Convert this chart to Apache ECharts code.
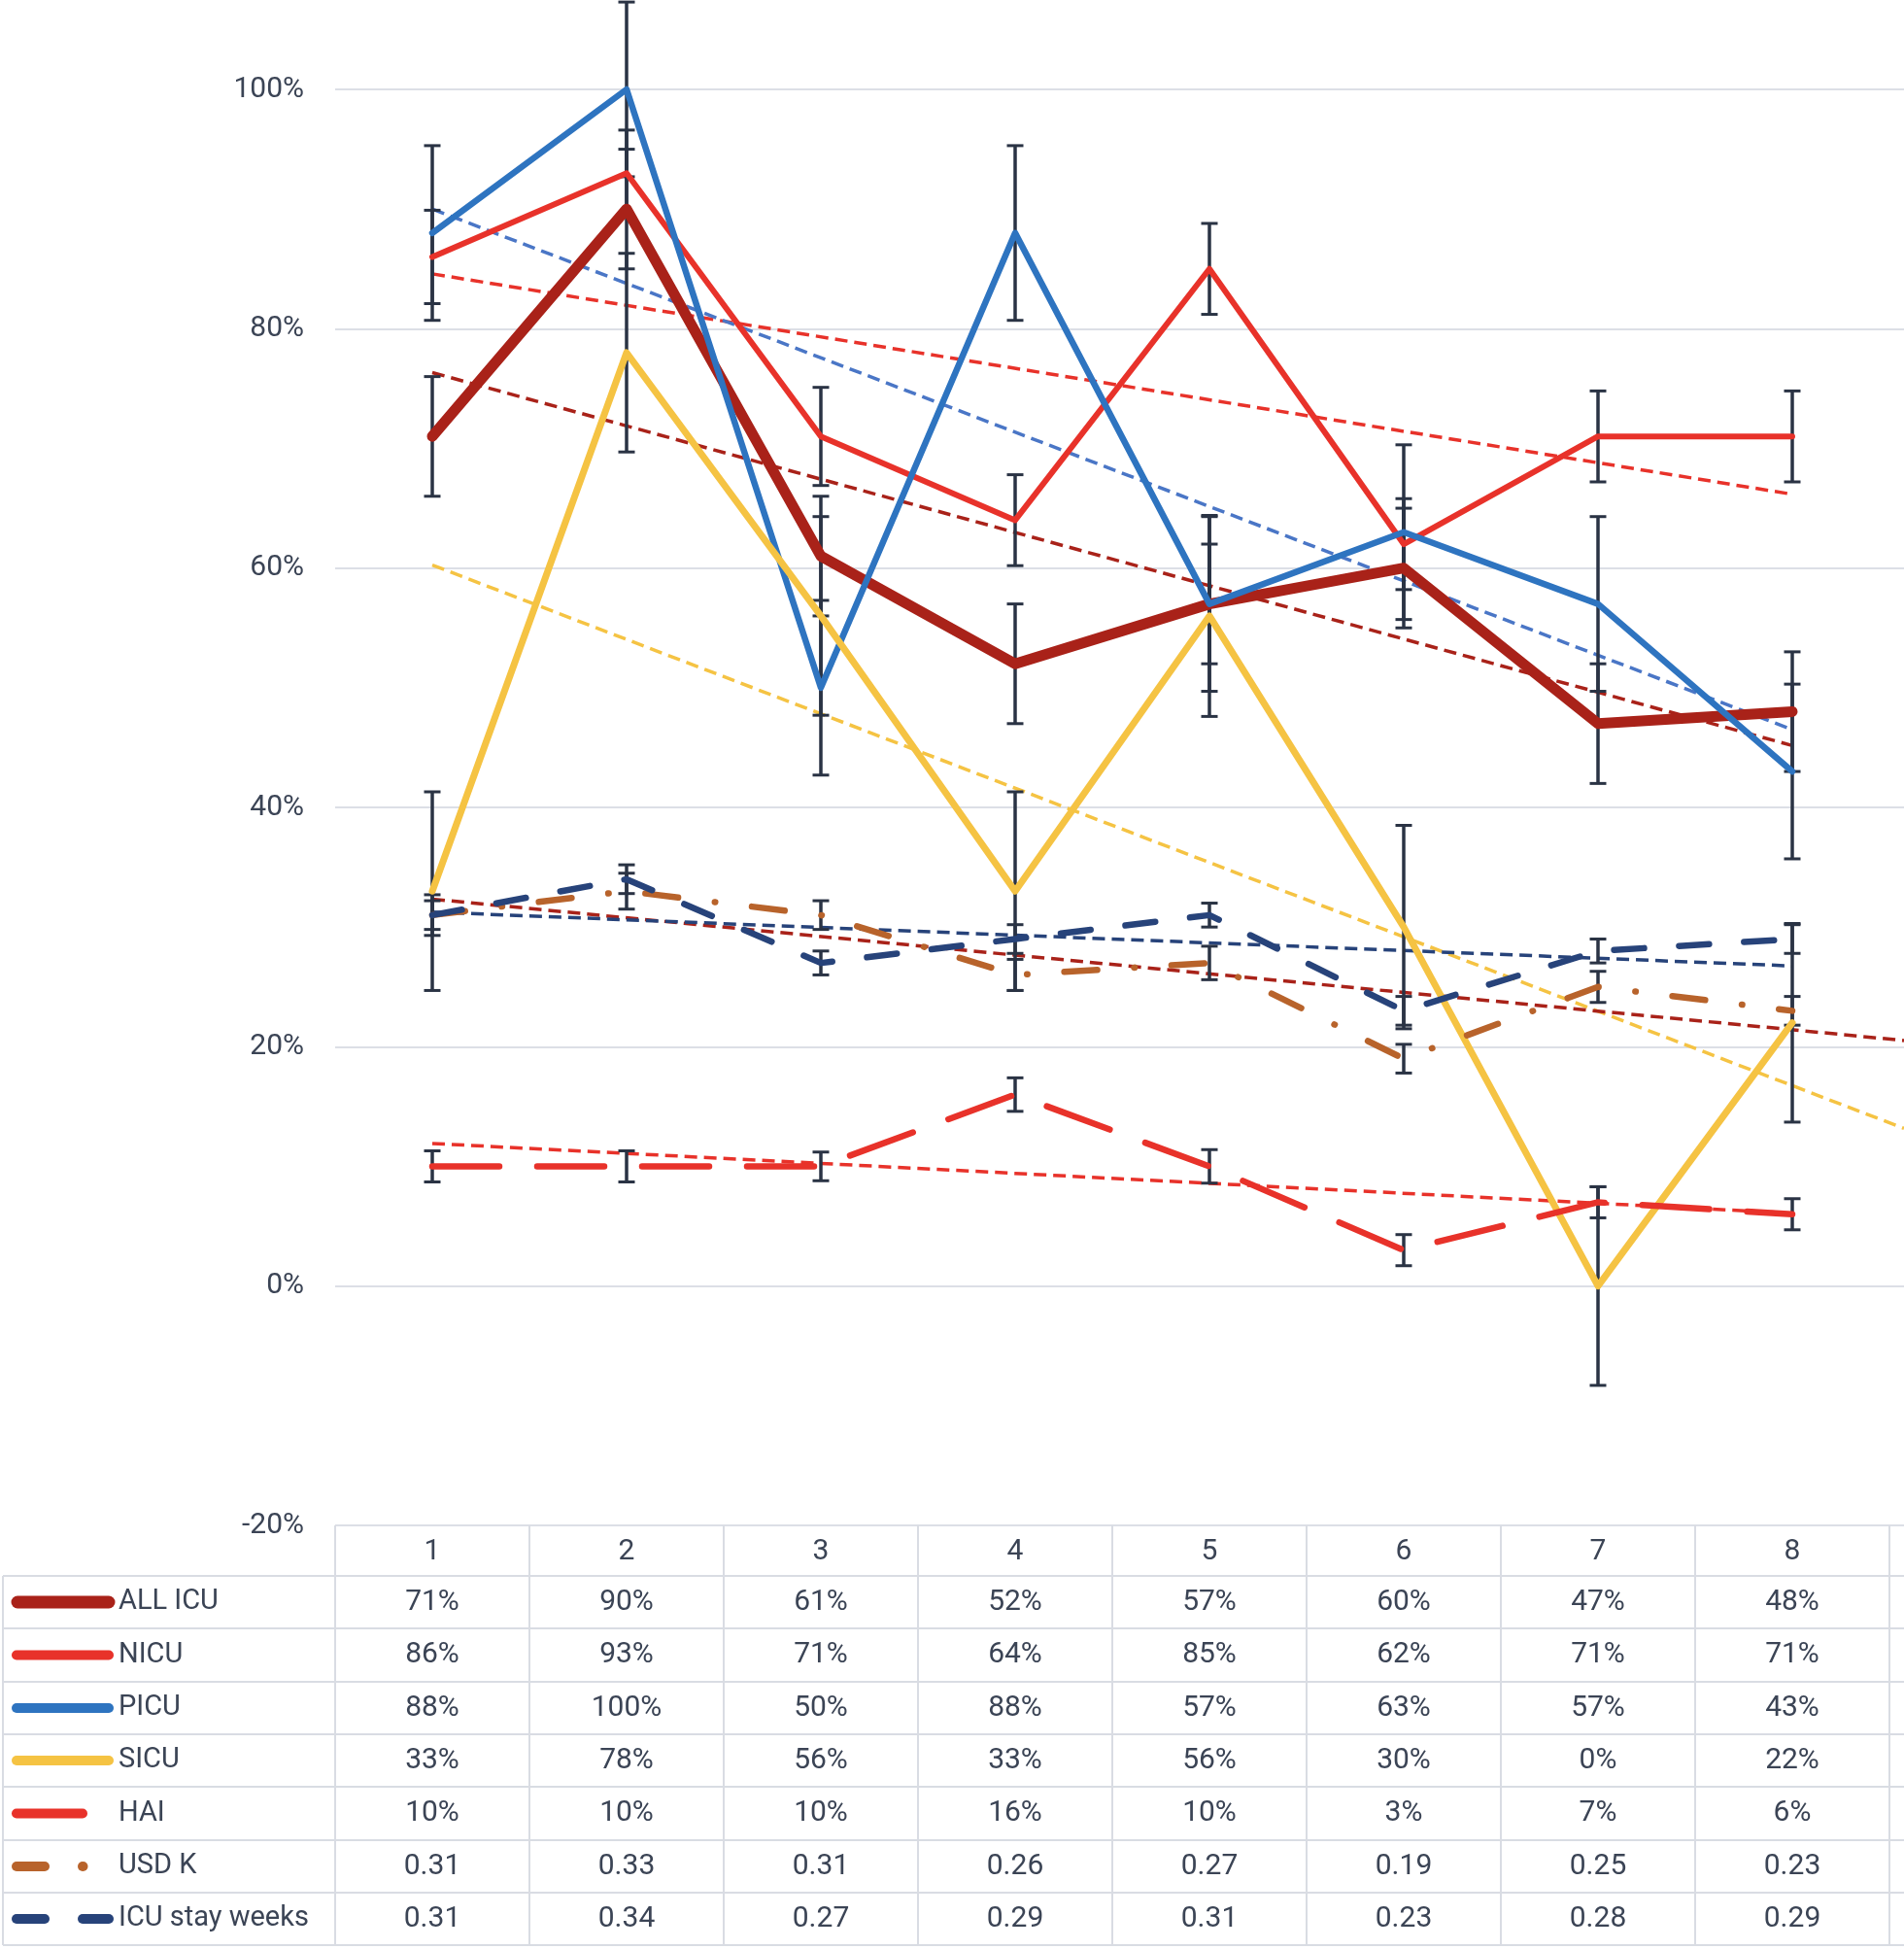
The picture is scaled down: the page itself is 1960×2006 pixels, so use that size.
<!DOCTYPE html>
<html>
<head>
<meta charset="utf-8">
<script src="https://cdn.jsdelivr.net/npm/echarts@6/dist/echarts.min.js"></script>
<style>
  html, body { margin: 0; padding: 0; background: #ffffff; }
  #chart { width: 1960px; height: 2006px; }
</style>
</head>
<body>
<div id="chart"></div>
<script>
// ---------- data ----------
const categories = [1, 2, 3, 4, 5, 6, 7, 8];
const seriesNames = ['ALL ICU', 'NICU', 'PICU', 'SICU', 'HAI', 'USD K', 'ICU stay weeks'];
const allIcu  = [0.71, 0.90, 0.61, 0.52, 0.57, 0.60, 0.47, 0.48];
const nicu    = [0.86, 0.93, 0.71, 0.64, 0.85, 0.62, 0.71, 0.71];
const picu    = [0.88, 1.00, 0.50, 0.88, 0.57, 0.63, 0.57, 0.43];
const sicu    = [0.33, 0.78, 0.56, 0.33, 0.56, 0.30, 0.00, 0.22];
const hai     = [0.10, 0.10, 0.10, 0.16, 0.10, 0.03, 0.07, 0.06];
const usdK    = [0.31, 0.33, 0.31, 0.26, 0.27, 0.19, 0.25, 0.23];
const icuStay = [0.31, 0.34, 0.27, 0.29, 0.31, 0.23, 0.28, 0.29];

// error bar half-lengths
const errAll  = [0.050, 0.050, 0.050, 0.050, 0.050, 0.050, 0.050, 0.050];
const errNicu = [0.039, 0.036, 0.041, 0.038, 0.038, 0.038, 0.038, 0.038];
const errPicu = [0.073, 0.073, 0.073, 0.073, 0.073, 0.073, 0.073, 0.073];
const errSicu = [0.083, 0.083, 0.083, 0.083, 0.084, 0.085, 0.083, 0.083];
const errHai  = [0.013, 0.013, 0.012, 0.014, 0.014, 0.013, 0.013, 0.013];
const errUsd  = [0.012, 0.015, 0.012, 0.013, 0.014, 0.012, 0.013, 0.012];
const errStay = [0.017, 0.012, 0.010, 0.012, 0.010, 0.012, 0.010, 0.012];

// ---------- styles ----------
const TEXT = '#3B4455';
const GRIDC = '#DCDFE6';
const ERRC = '#2A3344';
const FONT = 'Roboto, "Liberation Sans", sans-serif';

const styles = [
  { color: '#A92219', width: 11, dash: 'solid', trend: '#A92219', trendEnd: 8 },
  { color: '#E8322A', width: 6, dash: 'solid', trend: '#E8322A', trendEnd: 8 },
  { color: '#2E74C0', width: 6.5, dash: 'solid', trend: '#4A76C6', trendEnd: 8 },
  { color: '#F5C343', width: 7, dash: 'solid', trend: '#F5C343', trendEnd: 8.575 },
  { color: '#E8322A', width: 6.5, dash: [69, 39], trend: '#E8322A', trendEnd: 8 },
  { color: '#B8632B', width: 6.5, dash: [34, 38, 0.5, 38], trend: '#A92219', trendEnd: 8.575 },
  { color: '#27437A', width: 6.5, dash: [31, 36], trend: '#27437A', trendEnd: 8 }
];
const values = [allIcu, nicu, picu, sicu, hai, usdK, icuStay];
const errors = [errAll, errNicu, errPicu, errSicu, errHai, errUsd, errStay];

function trendLine(ys, x0, x1) {
  const n = ys.length;
  const xs = categories;
  const mx = xs.reduce((a, b) => a + b, 0) / n;
  const my = ys.reduce((a, b) => a + b, 0) / n;
  let sxy = 0, sxx = 0;
  for (let i = 0; i < n; i++) { sxy += (xs[i] - mx) * (ys[i] - my); sxx += (xs[i] - mx) * (xs[i] - mx); }
  const b = sxy / sxx, a = my - b * mx;
  return [[x0, a + b * x0], [x1, a + b * x1]];
}

const series = [];
// trend lines (under data lines)
values.forEach((vals, i) => {
  series.push({
    type: 'line', name: seriesNames[i] + ' trend', data: trendLine(vals, 1, styles[i].trendEnd),
    symbol: 'none', silent: true, z: 2,
    lineStyle: { color: styles[i].trend, width: 3.5, type: [13, 7] }
  });
});
// data lines + error bars
values.forEach((vals, i) => {
  const st = styles[i];
  series.push({
    type: 'line', name: seriesNames[i],
    data: vals.map((v, k) => [categories[k], v]),
    symbol: 'none', silent: true, z: 3,
    lineStyle: { color: st.color, width: st.width, type: st.dash, cap: 'round', join: 'round' }
  });
  series.push({
    type: 'custom', name: seriesNames[i] + ' err', z: 3, silent: true, clip: false,
    encode: { x: 0, y: 1 },
    data: vals.map((v, k) => [categories[k], v, errors[i][k]]),
    renderItem: function (params, api) {
      const x = api.value(0), y = api.value(1), e = api.value(2);
      const top = api.coord([x, y + e]);
      const bot = api.coord([x, y - e]);
      const hw = 8.5;
      return {
        type: 'group',
        children: [
          { type: 'line', shape: { x1: top[0], y1: top[1], x2: bot[0], y2: bot[1] }, style: { stroke: ERRC, lineWidth: 3.5 } },
          { type: 'line', shape: { x1: top[0] - hw, y1: top[1], x2: top[0] + hw, y2: top[1] }, style: { stroke: ERRC, lineWidth: 3 } },
          { type: 'line', shape: { x1: bot[0] - hw, y1: bot[1], x2: bot[0] + hw, y2: bot[1] }, style: { stroke: ERRC, lineWidth: 3 } }
        ]
      };
    }
  });
});

const chart = echarts.init(document.getElementById('chart'), null, { renderer: 'canvas' });
// plot: -20% at y=1570, 100% at y=92 -> top of canvas is ~107.47%
chart.setOption({
  animation: false,
  backgroundColor: '#ffffff',
  grid: { left: 345, right: 0, top: 0, height: 1570, containLabel: false },
  xAxis: {
    type: 'value', min: 0.5, max: 8.575,
    axisLine: { show: false }, axisTick: { show: false },
    axisLabel: { show: false }, splitLine: { show: false }
  },
  yAxis: {
    type: 'value', min: -0.2, max: 1.0747, interval: 0.2,
    axisLine: { show: false }, axisTick: { show: false },
    splitLine: { show: true, showMaxLine: false, lineStyle: { color: GRIDC, width: 2 } },
    axisLabel: {
      margin: 32, fontSize: 30, fontFamily: FONT, color: TEXT, showMaxLabel: false,
      formatter: v => Math.round(v * 100) + '%'
    }
  },
  series: series
});

// ---------- data table (below the plot) ----------
const px = v => chart.convertToPixel({ xAxisIndex: 0 }, v);
const headerTop = 1570, headerBottom = 1622;
const rowLines = [1622, 1676, 1731, 1785, 1839, 1894, 1948, 2002];
const g = [];
const lineStyle = { stroke: '#D9DCE3', lineWidth: 2 };
rowLines.forEach(y => g.push({ type: 'line', silent: true, shape: { x1: 3, y1: y, x2: 1960, y2: y }, style: lineStyle }));
g.push({ type: 'line', silent: true, shape: { x1: 3, y1: headerBottom, x2: 3, y2: 2002 }, style: lineStyle });
for (let c = 0; c <= categories.length; c++) {
  const x = px(categories[0] - 0.5 + c);
  g.push({ type: 'line', silent: true, shape: { x1: x, y1: headerTop, x2: x, y2: 2002 }, style: lineStyle });
}
categories.forEach(c => g.push({
  type: 'text', silent: true, x: px(c), y: (headerTop + headerBottom) / 2 + 1,
  style: { text: String(c), fontSize: 30, fontFamily: FONT, fill: TEXT, align: 'center', verticalAlign: 'middle' }
}));
const fmtPct = v => Math.round(v * 100) + '%';
const fmtDec = v => v.toFixed(2);
const rowFmt = [fmtPct, fmtPct, fmtPct, fmtPct, fmtPct, fmtDec, fmtDec];
values.forEach((vals, r) => {
  const yc = (rowLines[r] + rowLines[r + 1]) / 2;
  vals.forEach((v, k) => g.push({
    type: 'text', silent: true, x: px(categories[k]), y: yc,
    style: { text: rowFmt[r](v), fontSize: 30, fontFamily: FONT, fill: TEXT, align: 'center', verticalAlign: 'middle' }
  }));
  g.push({
    type: 'text', silent: true, x: 122, y: yc,
    style: { text: seriesNames[r], fontSize: 29, fontFamily: FONT, fill: TEXT, align: 'left', verticalAlign: 'middle' }
  });
  const col = styles[r].color;
  const key = (x1, x2, w) => g.push({ type: 'line', silent: true, shape: { x1: x1, y1: yc, x2: x2, y2: yc },
    style: { stroke: col, lineWidth: w, lineCap: 'round' } });
  if (r === 0) key(18, 112, 13);
  else if (r <= 3) key(17, 112, 10);
  else if (r === 4) key(17, 85, 10);
  else if (r === 5) { key(17, 46, 10); key(85, 85.5, 10); }
  else { key(17, 46, 10); key(85, 112, 10); }
});
chart.setOption({ graphic: { elements: g } });
</script>
</body>
</html>
